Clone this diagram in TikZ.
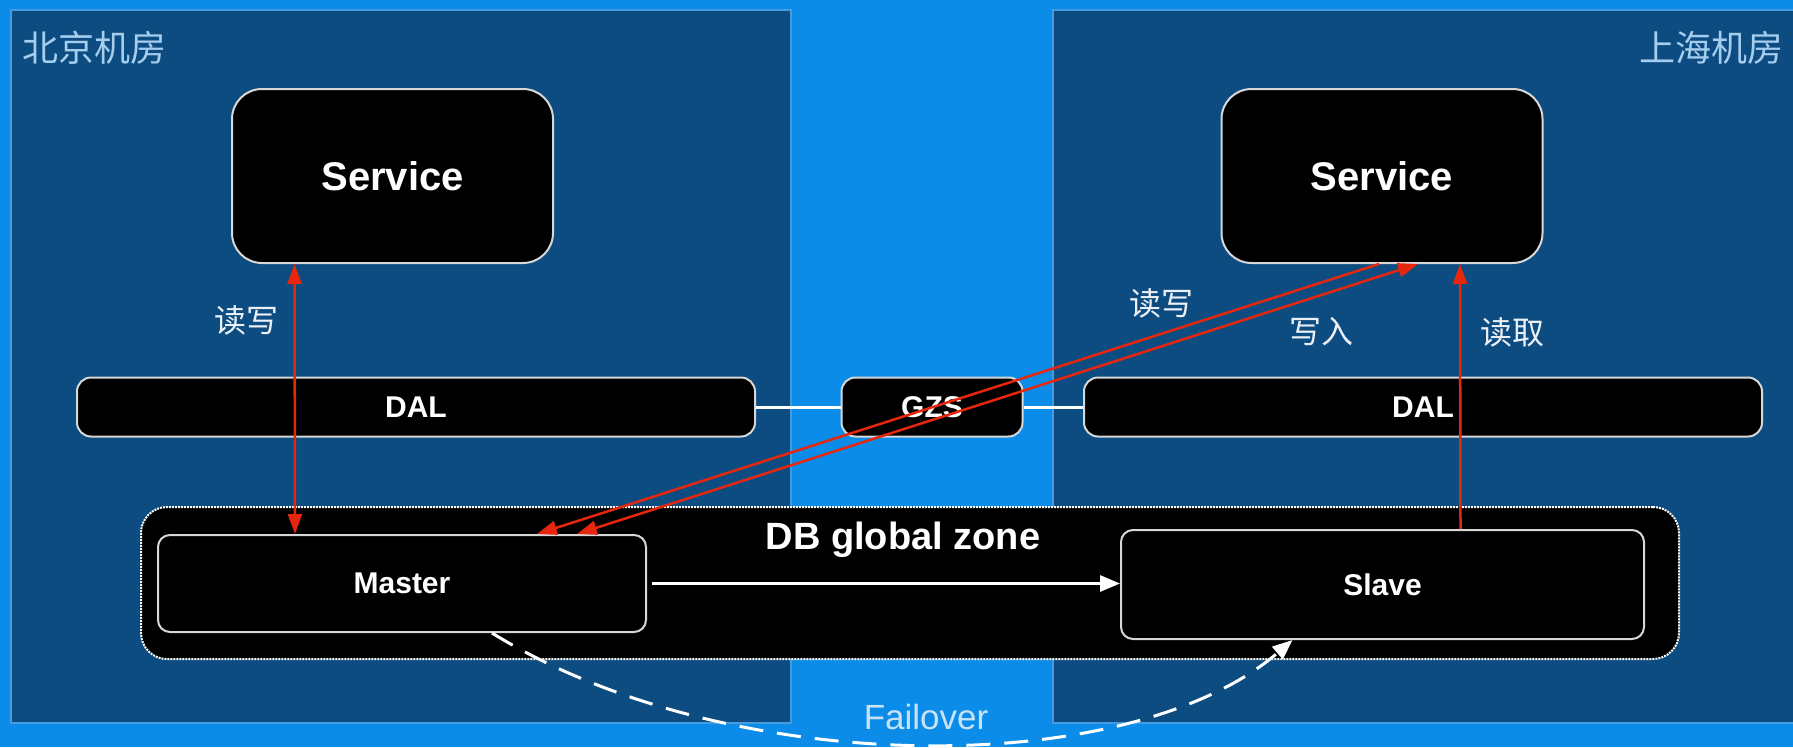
\documentclass[tikz,border=0pt]{standalone}
\usepackage{fontspec}
\setmainfont{Liberation Sans}
\newfontfamily\cjk{Noto Sans CJK SC}
\usetikzlibrary{arrows.meta,calc}
\definecolor{sky}{RGB}{10,140,232}
\definecolor{room}{RGB}{12,76,128}
\definecolor{roomedge}{RGB}{70,155,222}
\definecolor{titlec}{RGB}{165,205,238}
\definecolor{redl}{RGB}{232,38,14}
\definecolor{boxedge}{RGB}{215,215,215}
\definecolor{labelc}{RGB}{235,240,246}

\tikzset{
  box/.style={draw=boxedge, line width=2pt, fill=black, text=white, inner sep=0pt},
  svcbox/.style={box, rounded corners=30pt, minimum width=321pt, minimum height=174pt,
    font=\fontsize{40}{44}\selectfont\bfseries},
  dalbox/.style={box, rounded corners=14pt, minimum height=59pt,
    font=\fontsize{30}{34}\selectfont\bfseries},
  dbbox/.style={box, rounded corners=12pt, font=\fontsize{30}{34}\selectfont\bfseries},
  zonebox/.style={draw=white, densely dotted, line width=2pt, fill=black,
    rounded corners=26pt, inner sep=0pt},
  roomtitle/.style={text=titlec, font=\cjk\fontsize{36}{40}\selectfont, inner sep=0pt},
  cnlabel/.style={text=labelc, font=\cjk\fontsize{32}{36}\selectfont, inner sep=0pt},
  redarrow/.style={draw=redl, line width=2.5pt, -{Triangle[length=20pt,width=14pt]}},
  redboth/.style={draw=redl, line width=2.5pt,
    {Triangle[length=20pt,width=14pt]}-{Triangle[length=20pt,width=14pt]}},
  link/.style={draw=white, line width=3pt},
}

\begin{document}
\begin{tikzpicture}[x=1pt,y=-1pt]
  % canvas and the two machine rooms
  \fill[sky] (0,0) rectangle (1793,747);
  \useasboundingbox (0,0) rectangle (1793,747);
  \filldraw[fill=room, draw=roomedge, line width=1.5pt] (11,10) rectangle (791,723);
  \filldraw[fill=room, draw=roomedge, line width=1.5pt] (1053,10) rectangle (1800,723);

  \node[roomtitle, anchor=west] (bjtitle) at (22,48) {北京机房};
  \node[roomtitle, anchor=east] (shtitle) at (1784,48) {上海机房};

  % services
  \node[svcbox] (lsvc) at (392.5,176) {Service};
  \node[svcbox] (rsvc) at (1382,176) {Service};

  % data access layer and GZS
  \node[dalbox, minimum width=678pt] (ldal) at (416,407) {DAL};
  \node[dalbox, minimum width=181pt] (gzs) at (932,407) {GZS};
  \node[dalbox, minimum width=678pt] (rdal) at (1423,407) {DAL};
  \draw[link] (ldal.east) -- (gzs.west);
  \draw[link] (gzs.east) -- (rdal.west);

  % DB global zone
  \node[zonebox, minimum width=1538pt, minimum height=152pt] (zone) at (910,583) {};
  \node[text=white, font=\fontsize{38}{42}\selectfont\bfseries, inner sep=0pt]
    (zonelabel) at (903,540) {DB global zone};
  \node[dbbox, minimum width=488pt, minimum height=97pt] (master) at (402,583.5) {Master};
  \node[dbbox, minimum width=523pt, minimum height=109pt] (slave) at (1382.5,584.5) {Slave};

  % replication
  \draw[draw=white, line width=3pt, shorten >=5pt, -{Triangle[length=20pt,width=16pt]}]
    ([xshift=5pt]master.east) -- ([xshift=5pt]master.east -| slave.west);

  % failover path
  \coordinate (fofrom) at ([xshift=90pt]master.south);
  \coordinate (foto) at ([xshift=-90pt]slave.south);
  \draw[white, line width=3pt, dash pattern=on 24pt off 14pt,
        -{Triangle[length=20pt,width=16pt]}]
    (fofrom) .. controls (730,780) and (1130,780) .. (foto);
  \node[text=titlec!60!white, font=\fontsize{35}{40}\selectfont, inner sep=0pt]
    (folabel) at (926,717) {Failover};

  % read/write paths
  \draw[redboth] ([xshift=-98pt]lsvc.south) -- ([xshift=-107pt]master.north);
  \draw[redarrow] ([xshift=-3pt]rsvc.south) -- ([xshift=135pt]master.north);
  \draw[redboth] ([xshift=175pt]master.north) -- ([xshift=36pt]rsvc.south);
  \draw[redarrow] ([xshift=78pt]slave.north) -- ([xshift=78pt]rsvc.south);

  \node[cnlabel] (lrw) at (246,320) {读写};
  \node[cnlabel] (rrw) at (1161,303) {读写};
  \node[cnlabel] (wr) at (1321,332) {写入};
  \node[cnlabel] (rd) at (1512,332) {读取};
\end{tikzpicture}
\end{document}
